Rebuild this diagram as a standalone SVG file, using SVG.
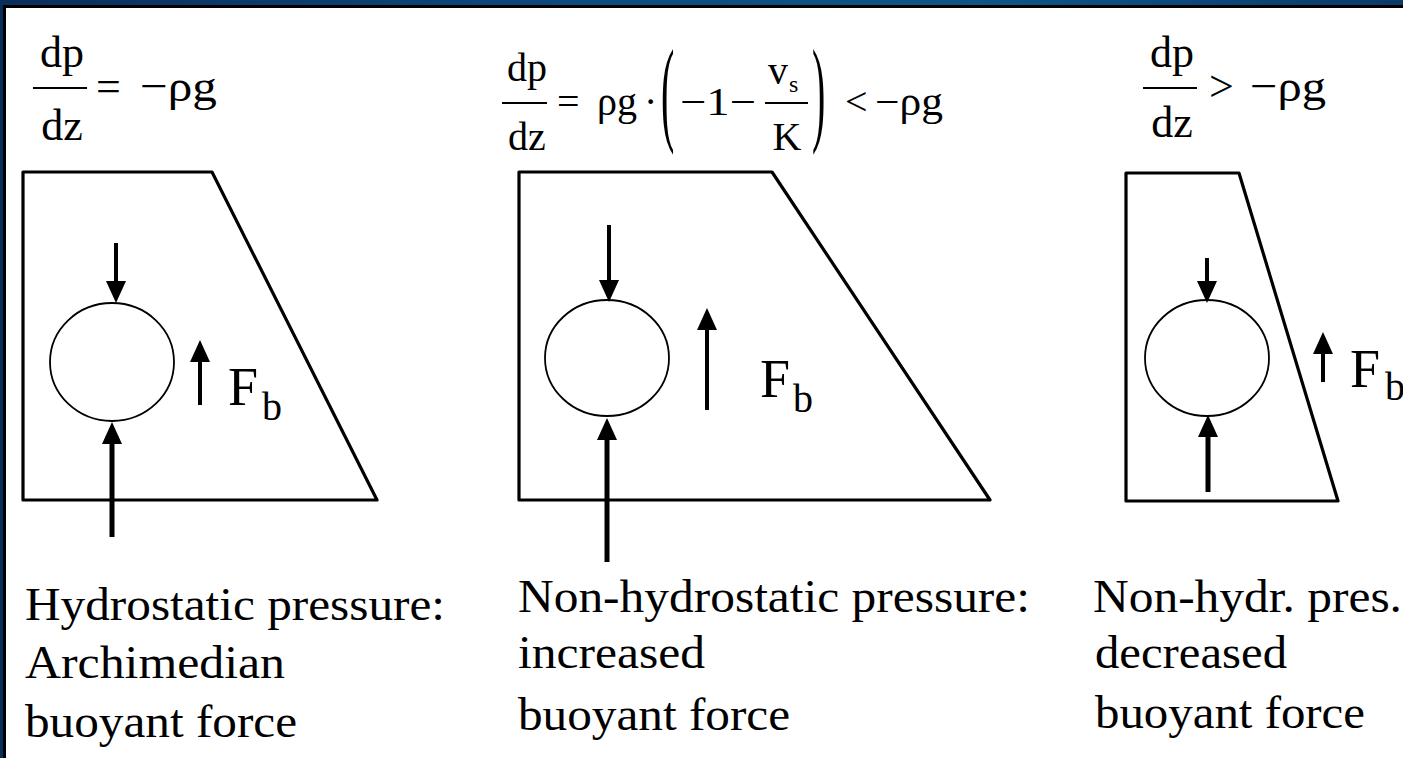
<svg xmlns="http://www.w3.org/2000/svg" width="1403" height="758" viewBox="0 0 1403 758">
  <defs>
    <linearGradient id="band" x1="0" y1="0" x2="1" y2="0">
      <stop offset="0" stop-color="#0a2e5c"/>
      <stop offset="0.4" stop-color="#0d4a7e"/>
      <stop offset="0.7" stop-color="#0e5688"/>
      <stop offset="1" stop-color="#0b3a6c"/>
    </linearGradient>
    <marker id="head" viewBox="0 0 22 20" refX="12" refY="10" markerWidth="22" markerHeight="20" markerUnits="userSpaceOnUse" orient="auto">
      <path d="M0,0 L22,10 L0,20 z" fill="#000"/>
    </marker>
  </defs>
  <style>
    .vessel { fill: none; stroke: #000; stroke-width: 3.2; stroke-linejoin: round; }
    .ball { fill: none; stroke: #000; stroke-width: 1.8; }
    .arr { stroke: #000; stroke-width: 4; marker-end: url(#head); }
    .arrb { stroke: #000; stroke-width: 5; marker-end: url(#head); }
    .eq { font-family: "Liberation Serif", "DejaVu Serif", serif; font-size: 44px; fill: #000; }
    .eq2 { font-family: "Liberation Serif", "DejaVu Serif", serif; font-size: 40px; fill: #000; }
    .bar { stroke: #000; stroke-width: 2; }
    .F { font-family: "Liberation Serif", "DejaVu Serif", serif; font-size: 54px; fill: #000; }
    .sub { font-family: "Liberation Serif", "DejaVu Serif", serif; font-size: 40px; fill: #000; }
    .lbl { font-family: "Liberation Serif", "DejaVu Serif", serif; font-size: 46px; fill: #000; }
  </style>
  <rect x="0" y="0" width="1403" height="758" fill="#fff"/>
  <g id="frame">
    <rect x="0" y="0" width="1403" height="6" fill="url(#band)"/>
    <rect x="0" y="0" width="3" height="758" fill="#0a2e5c"/>
    <rect x="3" y="5" width="1400" height="3" fill="#000"/>
    <rect x="3" y="5" width="3" height="753" fill="#000"/>
  </g>

  <g id="panel1">
    <g id="eq1">
      <text class="eq" x="62" y="67" text-anchor="middle">dp</text>
      <line class="bar" x1="33" y1="88" x2="87" y2="88"/>
      <text class="eq" x="62" y="140" text-anchor="middle">dz</text>
      <text class="eq" x="96" y="101">=</text>
      <text class="eq" x="140" y="101" textLength="77" lengthAdjust="spacingAndGlyphs">−ρg</text>
    </g>
    <polygon id="vessel1" class="vessel" points="23,172 212,172 377,500 23,500"/>
    <ellipse id="ball1" class="ball" cx="112" cy="362" rx="62" ry="59"/>
    <text class="F" x="228" y="405">F</text>
    <text class="sub" x="262" y="420">b</text>
    <text class="lbl" x="25" y="620" textLength="420" lengthAdjust="spacingAndGlyphs">Hydrostatic pressure:</text>
    <text class="lbl" x="25" y="678" textLength="260" lengthAdjust="spacingAndGlyphs">Archimedian</text>
    <text class="lbl" x="25" y="737" textLength="272" lengthAdjust="spacingAndGlyphs">buoyant force</text>
  </g>

  <g id="panel2">
    <g id="eq2">
      <text class="eq2" x="527" y="81" text-anchor="middle">dp</text>
      <line class="bar" x1="502" y1="103" x2="547" y2="103"/>
      <text class="eq2" x="527" y="150" text-anchor="middle">dz</text>
      <text class="eq2" x="557" y="115">=</text>
      <text class="eq2" x="597" y="115" textLength="40" lengthAdjust="spacingAndGlyphs">ρg</text>
      <text class="eq2" x="644" y="115">·</text>
      <text class="eq2" transform="translate(661,0) scale(1,2.9)" x="0" y="45">(</text>
      <text class="eq2" x="680" y="115" textLength="76" lengthAdjust="spacingAndGlyphs">−1−</text>
      <text class="eq2" x="768" y="84">v</text>
      <text class="eq2" x="789" y="92" style="font-size:24px">s</text>
      <line class="bar" x1="765" y1="103" x2="808" y2="103"/>
      <text class="eq2" x="787" y="150" text-anchor="middle">K</text>
      <text class="eq2" transform="translate(812,0) scale(1,2.9)" x="0" y="45">)</text>
      <text class="eq2" x="845" y="115">&lt;</text>
      <text class="eq2" x="875" y="115" textLength="68" lengthAdjust="spacingAndGlyphs">−ρg</text>
    </g>
    <polygon id="vessel2" class="vessel" points="519,172 772,172 990,500 519,500"/>
    <ellipse id="ball2" class="ball" cx="607" cy="358" rx="62" ry="58"/>
    <text class="F" x="760" y="397">F</text>
    <text class="sub" x="793" y="412">b</text>
    <text class="lbl" x="518" y="612" textLength="512" lengthAdjust="spacingAndGlyphs">Non-hydrostatic pressure:</text>
    <text class="lbl" x="518" y="668" textLength="187" lengthAdjust="spacingAndGlyphs">increased</text>
    <text class="lbl" x="518" y="730" textLength="272" lengthAdjust="spacingAndGlyphs">buoyant force</text>
  </g>

  <g id="panel3">
    <g id="eq3">
      <text class="eq" x="1172" y="67" text-anchor="middle">dp</text>
      <line class="bar" x1="1143" y1="88" x2="1197" y2="88"/>
      <text class="eq" x="1172" y="137" text-anchor="middle">dz</text>
      <text class="eq" x="1209" y="101">&gt;</text>
      <text class="eq" x="1250" y="101" textLength="76" lengthAdjust="spacingAndGlyphs">−ρg</text>
    </g>
    <polygon id="vessel3" class="vessel" points="1126,173 1239,173 1338,501 1126,501"/>
    <ellipse id="ball3" class="ball" cx="1207" cy="358" rx="62" ry="58"/>
    <text class="F" x="1350" y="387">F</text>
    <text class="sub" x="1385" y="400">b</text>
    <text class="lbl" x="1093" y="612" textLength="309" lengthAdjust="spacingAndGlyphs">Non-hydr. pres.</text>
    <text class="lbl" x="1095" y="668" textLength="192" lengthAdjust="spacingAndGlyphs">decreased</text>
    <text class="lbl" x="1095" y="728" textLength="270" lengthAdjust="spacingAndGlyphs">buoyant force</text>
  </g>

  <g id="connectors">
    <line class="arr" x1="116" y1="243" x2="116" y2="293"/>
    <line class="arrb" x1="112" y1="537" x2="112" y2="432"/>
    <line class="arr" x1="200" y1="405" x2="200" y2="350"/>
    <line class="arr" x1="609" y1="225" x2="609" y2="292"/>
    <line class="arrb" x1="607" y1="562" x2="607" y2="428"/>
    <line class="arr" x1="707" y1="410" x2="707" y2="318"/>
    <line class="arr" x1="1207" y1="258" x2="1207" y2="293"/>
    <line class="arrb" x1="1208" y1="492" x2="1208" y2="425"/>
    <line class="arr" x1="1323" y1="382" x2="1323" y2="342"/>
  </g>
</svg>
